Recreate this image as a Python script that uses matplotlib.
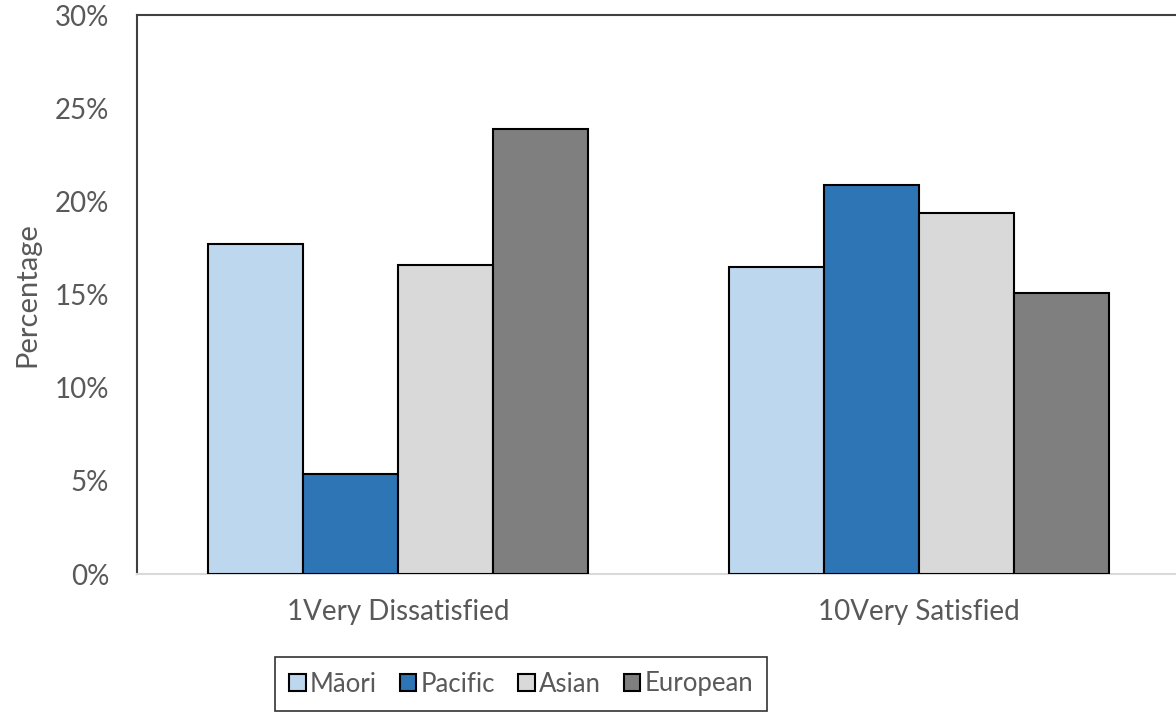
import numpy as np
import matplotlib.pyplot as plt
from matplotlib.ticker import PercentFormatter

# Satisfaction ratings by ethnic group
categories = ['1Very Dissatisfied', '10Very Satisfied']
groups = ['Māori', 'Pacific', 'Asian', 'European']
values = {
    'Māori': [17.7, 16.5],
    'Pacific': [5.4, 20.9],
    'Asian': [16.6, 19.4],
    'European': [23.9, 15.1],
}
colors = ['#BDD7EE', '#2E75B6', '#D9D9D9', '#7F7F7F']

plt.rcParams['font.family'] = ['Lato', 'DejaVu Sans']
text_color = '#595959'

fig = plt.figure(figsize=(11.76, 7.15), dpi=100)
ax = fig.add_axes([0.1165, 0.197, 0.887, 0.782])

x = np.arange(len(categories))
width = 0.182
for i, g in enumerate(groups):
    offset = (i - 1.5) * width
    ax.bar(x + offset, values[g], width, color=colors[i], edgecolor='black',
           linewidth=1.5, label=g, zorder=3)

ax.set_xlim(-0.5, 1.5)
ax.set_ylim(0, 30)
ax.set_yticks(np.arange(0, 31, 5))
ax.yaxis.set_major_formatter(PercentFormatter(decimals=0))
ax.set_xticks(x)
ax.set_xticklabels(categories)
ax.tick_params(axis='both', length=0, labelsize=20, colors=text_color)
ax.tick_params(axis='x', pad=18)
ax.tick_params(axis='y', pad=20)
ax.set_ylabel('Percentage', fontsize=21, color=text_color, labelpad=10)

for side in ['left', 'top', 'right']:
    ax.spines[side].set_color('#404040')
    ax.spines[side].set_linewidth(1.5)
ax.spines['bottom'].set_color('#D9D9D9')
ax.spines['bottom'].set_linewidth(1.5)

leg = fig.legend(loc='center', bbox_to_anchor=(521 / 1176, 1 - 684 / 715),
                 ncol=4, fontsize=18.5, frameon=True, fancybox=False,
                 edgecolor='black', handlelength=0.65, handleheight=0.65,
                 handletextpad=0.15, columnspacing=0.9, borderpad=0.55)
leg.get_frame().set_linewidth(1.2)
for t in leg.get_texts():
    t.set_color(text_color)

fig.savefig('out.png', dpi=100)
